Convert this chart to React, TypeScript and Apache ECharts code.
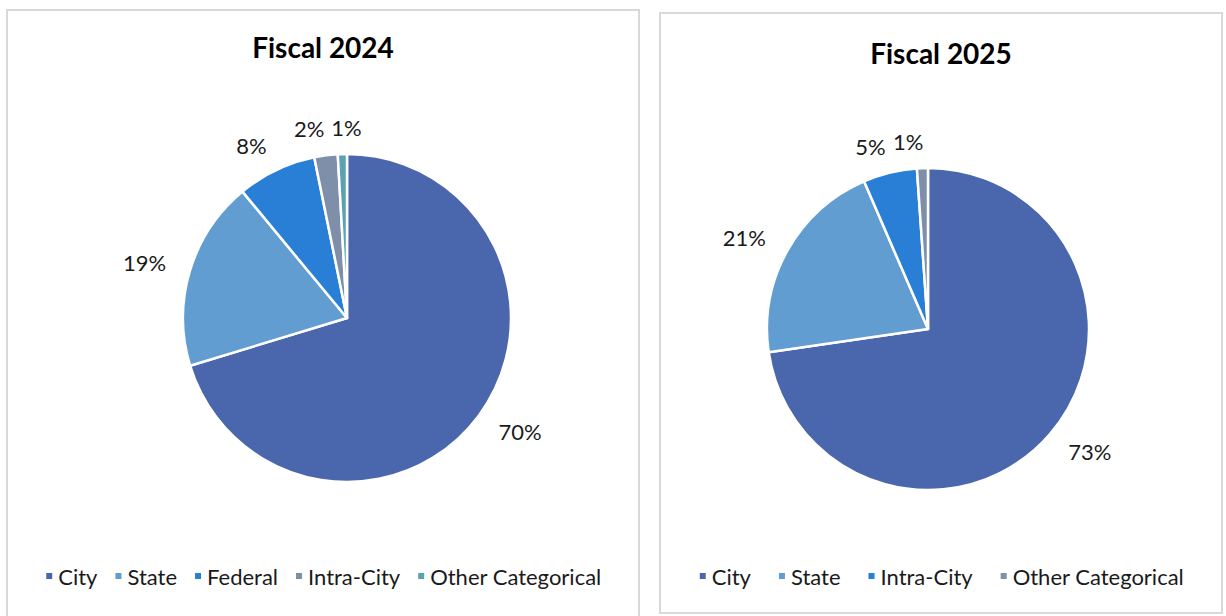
import React, { useEffect, useRef } from "react";
import * as echarts from "echarts";

const titles2024 = "Fiscal 2024";
const titles2025 = "Fiscal 2025";
const categories2024 = ["City", "State", "Federal", "Intra-City", "Other Categorical"];
const values2024 = [70.3, 18.7, 7.8, 2.3, 0.9];
const colors2024 = ["#4A66AC", "#629DD1", "#297FD5", "#7F8FA9", "#5AA2AE"];
const categories2025 = ["City", "State", "Intra-City", "Other Categorical"];
const values2025 = [72.7, 20.8, 5.4, 1.1];
const colors2025 = ["#4A66AC", "#629DD1", "#297FD5", "#7F8FA9"];

const FONT = "Lato, 'Open Sans', sans-serif";

function buildOption(
  title: string,
  cats: string[],
  vals: number[],
  colors: string[],
  center: [number, number],
  radius: number,
  titleTop: number,
  legendTop: number,
  legendGap: number,
  smallOffset: [number, number] | null
) {
  return {
    animation: false,
    color: colors,
    title: {
      text: title,
      left: "center",
      top: titleTop,
      textStyle: { fontFamily: FONT, fontWeight: "bold", fontSize: 28, color: "#000" },
    },
    legend: {
      data: cats,
      left: "center",
      top: legendTop,
      icon: "rect",
      itemWidth: 8,
      itemHeight: 8,
      itemGap: legendGap,
      textStyle: { fontFamily: FONT, fontSize: 22, color: "#1a1a1a" },
      selectedMode: false,
    },
    series: [
      {
        type: "pie",
        center,
        radius,
        startAngle: 90,
        clockwise: true,
        avoidLabelOverlap: false,
        minShowLabelAngle: 0,
        itemStyle: { borderColor: "#fff", borderWidth: 2.5 },
        label: {
          show: true,
          position: "outside",
          distanceToLabelLine: -2,
          fontFamily: FONT,
          fontSize: 22,
          color: "#1a1a1a",
          formatter: (p: any) => Math.round(p.value) + "%",
        },
        labelLine: { show: false, length: 27, length2: 0 },
        labelLayout: { hideOverlap: false },
        emphasis: { disabled: true },
        data: cats.map((c, i) => {
          const item: any = { name: c, value: vals[i] };
          if (smallOffset && i === cats.length - 1) {
            item.label = { offset: smallOffset };
          }
          return item;
        }),
      },
    ],
  };
}

function Chart({ option, width, height }: { option: any; width: number; height: number }) {
  const ref = useRef<HTMLDivElement>(null);
  useEffect(() => {
    if (!ref.current) return;
    const chart = echarts.init(ref.current, undefined, { renderer: "svg" });
    chart.setOption(option);
    return () => chart.dispose();
  }, []);
  return <div ref={ref} style={{ width, height }} />;
}

export default function App() {
  const opt1 = buildOption(titles2024, categories2024, values2024, colors2024, [339, 307], 164, 17, 549, 16, [18, 0]);
  const opt2 = buildOption(titles2025, categories2025, values2025, colors2025, [267, 315], 161, 20, 546, 26, null);
  return (
    <div style={{ position: "fixed", left: 0, top: 0, width: 1226, height: 616, background: "#fff", overflow: "hidden" }}>
      <div
        style={{
          position: "absolute",
          left: 6,
          top: 9,
          width: 634,
          height: 640,
          border: "2px solid #d9d9d9",
          boxSizing: "border-box",
        }}
      >
        <Chart option={opt1} width={630} height={636} />
      </div>
      <div
        style={{
          position: "absolute",
          left: 659,
          top: 12,
          width: 564,
          height: 602,
          border: "2px solid #d9d9d9",
          boxSizing: "border-box",
        }}
      >
        <Chart option={opt2} width={560} height={598} />
      </div>
    </div>
  );
}
